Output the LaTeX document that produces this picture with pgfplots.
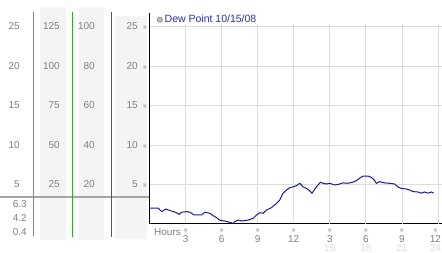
\documentclass[border=0pt]{standalone}
\usepackage{pgfplots}
\pgfplotsset{compat=1.18}
\usepackage{fontspec}
\setmainfont{Liberation Sans}
\newfontfamily\dejavu{DejaVu Sans}
\definecolor{mkc}{RGB}{150,150,150}
\newcommand{\mk}{{\dejavu\fontsize{5.5}{6}\selectfont\color{mkc}※}}
\definecolor{lbl}{RGB}{128,128,128}
\definecolor{lbl2}{RGB}{221,221,221}
\definecolor{bgc}{RGB}{244,244,244}
\definecolor{colCyan}{RGB}{30,165,220}
\definecolor{colGreen}{RGB}{50,170,50}
\definecolor{colRed}{RGB}{215,35,35}
\definecolor{dew}{RGB}{28,28,142}
\definecolor{legtxt}{RGB}{46,46,168}
\definecolor{gridc}{RGB}{220,220,220}
\definecolor{sepc}{RGB}{165,165,165}
\pgfplotsset{
  colaxis/.style={at={(#1,29pt)}, anchor=south west, scale only axis,
    width=5pt, height=199.9pt, xmin=0, xmax=1, ymin=0,
    axis line style={draw=none}, tick style={draw=none}, xtick=\empty,
    yticklabel style={anchor=east, inner sep=0pt, text=lbl, font=\fontsize{10}{12}\selectfont}},
}
\begin{document}
\begin{tikzpicture}
\useasboundingbox (0,0) rectangle (442pt,253pt);
\fill[white] (0,0) rectangle (442pt,253pt);
\fill[bgc] (40pt,13pt) rectangle (66pt,246pt);
\fill[bgc] (79pt,13pt) rectangle (104pt,246pt);
\fill[bgc] (115pt,14pt) rectangle (147pt,237pt);
\draw[sepc, line width=2pt] (0,56pt) -- (149pt,56pt);
\draw[draw=colCyan, line width=1.2pt] (33.3pt,17pt) -- (33.3pt,241pt);
\draw[draw=colGreen, line width=1.2pt] (72.3pt,16pt) -- (72.3pt,241pt);
\draw[draw=colRed, line width=1.2pt] (111.3pt,16pt) -- (111.3pt,241pt);

\begin{axis}[colaxis=20pt, ymax=25.3, ytick={5,10,...,25}, yticklabels={5,10,15,20,25}]
\end{axis}
\begin{axis}[colaxis=60pt, ymax=126.5, ytick={25,50,...,125}, yticklabels={25,50,75,100,125}]
\end{axis}
\begin{axis}[colaxis=95pt, ymax=101.2, ytick={20,40,...,100}, yticklabels={20,40,60,80,100}]
\end{axis}
\node[anchor=east, inner sep=0pt, text=lbl, font=\fontsize{10}{12}\selectfont] at (27pt,48.7pt) {6.3};
\node[anchor=east, inner sep=0pt, text=lbl, font=\fontsize{10}{12}\selectfont] at (27pt,35pt) {4.2};
\node[anchor=east, inner sep=0pt, text=lbl, font=\fontsize{10}{12}\selectfont] at (27pt,21pt) {0.4};

\begin{axis}[
  at={(149.5pt,29pt)}, anchor=south west, scale only axis,
  width=292.1pt, height=199.9pt,
  xmin=0, xmax=24.3, ymin=0, ymax=25.3,
  axis x line=bottom, axis y line=left,
  axis line style={-},
  x axis line style={black, line width=1pt},
  y axis line style={black, line width=1.5pt},
  major tick length=0pt,
  grid=major, major grid style={gridc, line width=0.8pt},
  clip=false,
  xtick={3,6,...,24},
  xticklabels={\shortstack{\mk\\3},\shortstack{\mk\\6},\shortstack{\mk\\9},\shortstack{\mk\\12},
               \shortstack{\mk\\3},\shortstack{\mk\\6},\shortstack{\mk\\9},\hbox{\shortstack{\mk\\12}\hspace{5pt}}},
  xticklabel style={anchor=north, inner sep=0pt, yshift=-4.5pt, text=lbl, font=\fontsize{10}{12}\selectfont},
  extra x ticks={15,18,21,24},
  extra x tick labels={15,18,21,\hbox{24\hspace{5pt}}},
  extra x tick style={xticklabel style={yshift=-16pt, text=lbl2}},
  ytick={5,10,...,25},
  yticklabels={5\hspace{5pt}\mk,10\hspace{5pt}\mk,15\hspace{5pt}\mk,20\hspace{5pt}\mk,25\hspace{5pt}\mk},
  yticklabel style={anchor=east, inner sep=0pt, xshift=-2pt, text=lbl, font=\fontsize{10}{12}\selectfont},
  legend style={at={(axis cs:0.6,25.85)}, anchor=west, draw=none, fill=none, inner sep=0pt,
    font=\fontsize{10.5}{12}\selectfont, text=legtxt},
  legend image code/.code={\draw[fill=lightgray, draw=gray, line width=0.6pt] (0.25em,0pt) circle (2.6pt);},
]
\addplot[dew, line width=1pt] table {
0 2.0
0.73 2.0
1.01 1.56
1.35 1.9
1.70 1.7
2.12 1.5
2.48 1.23
2.67 1.5
3.09 1.56
3.36 1.5
3.72 1.14
4.34 1.14
4.61 1.5
5.02 1.35
5.30 1.05
5.58 0.8
5.86 0.47
6.27 0.38
6.69 0.2
6.96 0.08
7.10 0.3
7.38 0.5
7.66 0.38
8.21 0.5
8.63 0.72
8.90 1.14
9.18 1.43
9.45 1.35
9.73 1.77
10.15 2.07
10.56 2.6
10.84 3.04
11.11 3.9
11.40 4.3
11.67 4.6
11.94 4.7
12.23 4.85
12.50 5.15
12.77 4.7
13.06 4.5
13.33 4.2
13.52 3.9
13.75 4.4
14.02 4.94
14.22 5.28
14.44 5.15
14.72 5.06
14.99 5.15
15.41 4.94
15.82 5.06
16.10 5.2
16.51 5.15
16.93 5.3
17.21 5.5
17.48 5.8
17.76 6.07
18.17 6.07
18.46 5.9
18.73 5.5
18.87 5.15
19.15 5.36
19.56 5.2
19.98 5.15
20.39 5.06
20.66 4.7
20.95 4.5
21.36 4.43
21.64 4.3
21.91 4.1
22.33 4.05
22.61 3.9
22.88 4.05
23.16 3.9
23.44 4.05
23.63 3.9
};
\addlegendentry{Dew Point 10/15/08}
\draw[black, line width=1.5pt] (axis cs:0,25.2) -- (axis cs:0,26.7);
\end{axis}
\node[anchor=west, inner sep=0pt, text=lbl, font=\fontsize{10}{12}\selectfont] at (154pt,21.3pt) {Hours};
\end{tikzpicture}
\end{document}
